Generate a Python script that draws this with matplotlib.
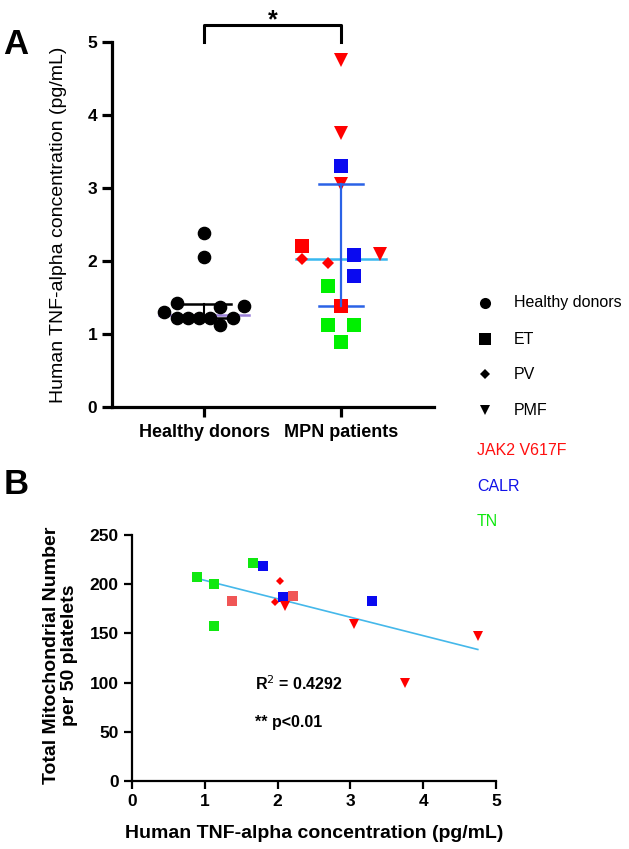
import numpy as np
import matplotlib
matplotlib.use("Agg")
import matplotlib.pyplot as plt

plt.rcParams['font.family'] = ['Liberation Sans', 'DejaVu Sans']

# ---------------- data ----------------
groups = ["Healthy donors", "MPN patients"]

# Panel A - healthy donors TNF-alpha (pg/mL)
hd_tnf = [2.39, 2.05, 1.42, 1.30, 1.22, 1.22, 1.22, 1.22, 1.37, 1.12, 1.22, 1.38]
hd_offset = [0, 0, -0.20, -0.29, -0.20, -0.12, -0.04, 0.04, 0.12, 0.12, 0.21, 0.29]

# MPN patients: TNF-alpha (pg/mL), subtype, mutation, mitochondria per 50 platelets
mpn_tnf = [4.75, 3.75, 3.30, 3.05, 2.21, 2.03, 1.97, 2.08, 2.10, 1.80, 1.66, 1.38, 1.13, 1.13, 0.89]
mpn_type = ["PMF", "PMF", "ET", "PMF", "ET", "PV", "PV", "ET", "PMF", "ET", "ET", "ET", "ET", "ET", "ET"]
mpn_mut = ["JAK2", "JAK2", "CALR", "JAK2", "JAK2", "JAK2", "JAK2", "CALR", "JAK2", "CALR",
           "TN", "JAK2", "TN", "TN", "TN"]
mpn_offset = [0, 0, 0, 0, -0.285, -0.285, -0.095, 0.095, 0.285, 0.095, -0.095, 0, -0.095, 0.095, 0]
mpn_mito = [147, 100, 183, 160, 188, 203, 182, 187, 178, 219, 222, 183, 200, 158, 207]

r2_text = "R$^2$ = 0.4292"
p_text = "** p<0.01"

# ---------------- styles ----------------
mut_color_A = {"JAK2": "#ff0000", "CALR": "#0a0af0", "TN": "#00f000"}
mut_color_B = {"JAK2": "#ff0000", "CALR": "#0a0af0", "TN": "#10e810"}
type_marker = {"ET": "s", "PV": "D", "PMF": "v"}
size_A = {"ET": 10, "PV": 6.6, "PMF": 10}
size_B = {"ET": 7, "PV": 4.0, "PMF": 7}

W, H = 629, 849
fig = plt.figure(figsize=(W / 100, H / 100), dpi=100)

# ---------------- Panel A ----------------
axA = fig.add_axes([112 / W, 1 - 407 / H, 322 / W, 365 / H])
axA.set_xlim(-0.672, 1.679)
axA.set_ylim(0, 5)
for s in ["top", "right"]:
    axA.spines[s].set_visible(False)
for s in ["left", "bottom"]:
    axA.spines[s].set_linewidth(2.3)
axA.tick_params(axis="both", width=2.3, length=7, labelsize=12.5)
axA.tick_params(axis="x", length=7, labelsize=13, pad=5)
axA.set_xticks([0, 1])
axA.set_xticklabels(groups, fontweight="bold")
axA.set_yticks([0, 1, 2, 3, 4, 5])
for t in axA.get_yticklabels():
    t.set_fontweight("bold")
axA.set_ylabel("Human TNF-alpha concentration (pg/mL)", fontsize=14)
axA.yaxis.set_label_coords(-0.14, 0.5)

# summary lines (median + interquartile range)
q1, med, q3 = np.percentile(hd_tnf, [25, 50, 75], method="weibull")
axA.plot([0, 0], [q1, q3], color="black", lw=1.5, zorder=2)
axA.plot([-0.2, 0.2], [q3, q3], color="black", lw=1.8, zorder=2)
axA.plot([-0.2, 0.2], [q1, q1], color="black", lw=1.8, zorder=2)
axA.plot([-0.33, 0.33], [med, med], color="#9b80d8", lw=1.8, zorder=2)

hd_x = [0 + o for o in hd_offset]
axA.plot(hd_x, hd_tnf, "o", color="black", ms=8.8, zorder=3, clip_on=False)

for v, t, m, o in zip(mpn_tnf, mpn_type, mpn_mut, mpn_offset):
    axA.plot(1 + o, v, type_marker[t], color=mut_color_A[m], ms=size_A[t], mew=0, zorder=3)

q1, med, q3 = np.percentile(mpn_tnf, [25, 50, 75], method="weibull")
axA.plot([1, 1], [q1, q3], color="#2b62e6", lw=1.6, zorder=4)
axA.plot([0.84, 1.16], [q3, q3], color="#2b62e6", lw=1.8, zorder=4)
axA.plot([0.84, 1.16], [q1, q1], color="#2b62e6", lw=1.8, zorder=2)
axA.plot([0.67, 1.33], [med, med], color="#38b8f0", lw=1.8, zorder=2)

# significance bracket
axA.plot([0, 0, 1, 1], [5.0, 5.23, 5.23, 5.0], color="black", lw=2.2, clip_on=False)
axA.text(0.5, 5.30, "*", ha="center", va="center", fontsize=18, fontweight="bold")

# ---------------- Panel B ----------------
axB = fig.add_axes([132 / W, 1 - 781 / H, 364 / W, 246 / H])
axB.set_xlim(0, 5)
axB.set_ylim(0, 250)
for s in ["top", "right"]:
    axB.spines[s].set_visible(False)
for s in ["left", "bottom"]:
    axB.spines[s].set_linewidth(1.6)
axB.tick_params(axis="both", width=1.6, length=6, labelsize=12.5)
axB.set_xticks([0, 1, 2, 3, 4, 5])
axB.set_yticks([0, 50, 100, 150, 200, 250])
for t in axB.get_xticklabels() + axB.get_yticklabels():
    t.set_fontweight("bold")
axB.set_xlabel("Human TNF-alpha concentration (pg/mL)", fontsize=14, fontweight="bold")
axB.xaxis.set_label_coords(0.5, -0.18)
axB.set_ylabel("Total Mitochondrial Number\nper 50 platelets", fontsize=14,
               fontweight="bold", linespacing=1.1)
axB.yaxis.set_label_coords(-0.148, 0.51)

slope, intercept = np.polyfit(mpn_tnf, mpn_mito, 1)
xs = np.array([min(mpn_tnf), max(mpn_tnf)])
axB.plot(xs, slope * xs + intercept, color="#45b8ea", lw=1.2, zorder=2)

for v, y, t, m in zip(mpn_tnf, mpn_mito, mpn_type, mpn_mut):
    c = mut_color_B[m]
    if t == "ET" and m == "JAK2":
        c = "#f05656"
    axB.plot(v, y, type_marker[t], color=c, ms=size_B[t], mew=0, zorder=3)

axB.text(1.69, 99, r2_text, fontsize=11.5, fontweight="bold", va="center", ha="left")
axB.text(1.69, 59, p_text, fontsize=11.5, fontweight="bold", va="center", ha="left")

# ---------------- legend (figure pixel space) ----------------
lg = fig.add_axes([0, 0, 1, 1], zorder=-1)
lg.set_xlim(0, W)
lg.set_ylim(H, 0)
lg.axis("off")
leg_rows = [("o", "Healthy donors", 8), ("s", "ET", 8), ("D", "PV", 5.5), ("v", "PMF", 7.5)]
leg_y = [303, 339, 374, 410]
for (mk, lab, ms), yy in zip(leg_rows, leg_y):
    lg.plot(485, yy, mk, color="black", ms=ms, mew=0)
    lg.text(514, yy, lab, fontsize=11.5, va="center", ha="left")
mut_rows = [("JAK2 V617F", "#ff1010"), ("CALR", "#1010e8"), ("TN", "#10e810")]
mut_y = [450, 486, 522]
for (lab, col), yy in zip(mut_rows, mut_y):
    lg.text(477, yy, lab, fontsize=11.5, va="center", ha="left", color=col)

fig.text(16 / W, 1 - 45 / H, "A", fontsize=25, fontweight="bold", ha="center", va="center")
fig.text(16 / W, 1 - 484 / H, "B", fontsize=25, fontweight="bold", ha="center", va="center")

fig.savefig("out.png", dpi=100)
